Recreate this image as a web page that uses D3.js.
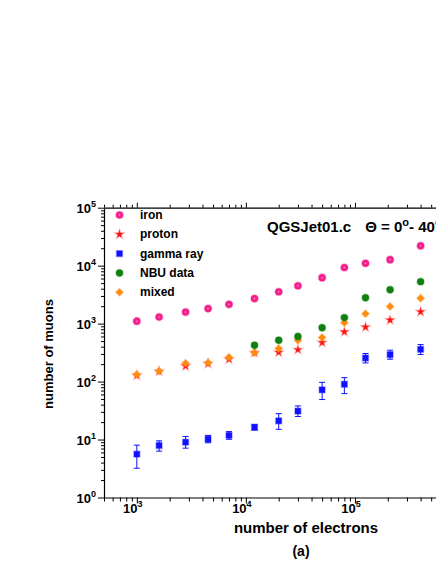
<!DOCTYPE html>
<html>
<head>
<meta charset="utf-8">
<script src="https://cdn.jsdelivr.net/npm/d3@7"></script>
<style>
  body { margin: 0; background: #fff; }
  text { font-family: Arial, "Liberation Sans", sans-serif; font-weight: bold; }
</style>
</head>
<body>
<div id="chart"></div>
<script>
// values
var electrons = [1000, 1600, 2800, 4500, 7000, 12000, 20000, 30000, 50000, 80000, 125000, 210000, 400000];
var iron = [1100, 1300, 1580, 1820, 2150, 2700, 3550, 4500, 6200, 9300, 11000, 12700, 22000];
var proton = [128, 150, 185, 205, 242, 315, 320, 355, 470, 720, 870, 1150, 1600];
var gamma = [5.6, 7.9, 9.0, 10.2, 11.8, 16.3, 21, 31, 72, 90, 255, 292, 360];
var gammaLow = [3.2, 6.3, 7.1, 8.8, 10.1, 14.6, 15, 25, 49, 62, 210, 243, 294];
var gammaHigh = [8, 9.5, 11.3, 11.8, 13.7, 18, 28, 38, 97, 117, 305, 348, 435];
var nbuElectrons = [12000, 20000, 30000, 50000, 80000, 125000, 210000, 400000];
var nbu = [425, 515, 600, 850, 1270, 2800, 3850, 5300];
var mixed = [132, 152, 208, 212, 262, 316, 372, 515, 575, 1040, 1480, 1980, 2750];

var xMajor = [1e3, 1e4, 1e5];
var yMajor = [1e0, 1e1, 1e2, 1e3, 1e4, 1e5];
var legendLabels = ['iron', 'proton', 'gamma ray', 'NBU data', 'mixed'];

var width = 436, height = 564;
var svg = d3.select('#chart').append('svg')
  .attr('width', width)
  .attr('height', height);

var x = d3.scaleLog().domain([500, 1e6]).range([104, 464]);
var y = d3.scaleLog().domain([1, 1e5]).range([497.5, 207.7]);

function minorTicks(lo, hi) {
  var t = [];
  for (var e = lo; e < hi; e++) {
    for (var k = 1; k < 10; k++) t.push(k * Math.pow(10, e));
  }
  t.push(Math.pow(10, hi));
  return t;
}
var xTicks = minorTicks(2, 6).filter(function (v) { return v >= 500; });
var yTicks = minorTicks(0, 5);

function isMajor(v) {
  var l = Math.log10(v);
  return Math.abs(l - Math.round(l)) < 1e-9;
}

// bottom axis
var gx = svg.append('g').attr('transform', 'translate(0,497.5)')
  .call(d3.axisBottom(x).tickValues(xTicks).tickFormat('').tickSizeOuter(0));
gx.selectAll('.tick line').attr('y2', function (d) { return isMajor(d) ? 6 : 4; });

// top axis
var gt = svg.append('g').attr('transform', 'translate(0,207.7)')
  .call(d3.axisTop(x).tickValues(xTicks).tickFormat('').tickSizeOuter(0));
gt.selectAll('.tick line').attr('y2', function (d) { return isMajor(d) ? -5 : -3; });

// left axis
var gy = svg.append('g').attr('transform', 'translate(104,0)')
  .call(d3.axisLeft(y).tickValues(yTicks).tickFormat('').tickSizeOuter(0));
gy.selectAll('.tick line').attr('x2', function (d) { return isMajor(d) ? -6 : -3; });

svg.selectAll('.domain').attr('stroke', '#000').attr('stroke-width', 1.2);
svg.selectAll('.tick line').attr('stroke', '#000');

// tick labels
function powerLabel(sel, v) {
  sel.append('tspan').text('10');
  sel.append('tspan').attr('dy', -6).style('font-size', '9px')
    .text(Math.round(Math.log10(v)));
}
xMajor.forEach(function (v) {
  var t = svg.append('text')
    .attr('x', x(v) - 4)
    .attr('y', 513)
    .attr('text-anchor', 'middle')
    .style('font-size', '13px');
  powerLabel(t, v);
});
yMajor.forEach(function (v) {
  var t = svg.append('text')
    .attr('x', 96)
    .attr('y', y(v) + 5)
    .attr('text-anchor', 'end')
    .style('font-size', '13px');
  powerLabel(t, v);
});

// axis titles
svg.append('text')
  .attr('x', 306).attr('y', 533)
  .attr('text-anchor', 'middle')
  .style('font-size', '15px')
  .text('number of electrons');
svg.append('text')
  .attr('x', 301).attr('y', 556)
  .attr('text-anchor', 'middle')
  .style('font-size', '14px')
  .text('(a)');
svg.append('text')
  .attr('transform', 'translate(53,354) rotate(-90)')
  .attr('text-anchor', 'middle')
  .style('font-size', '13px')
  .text('number of muons');

// title
var title = svg.append('text')
  .attr('x', 267).attr('y', 232)
  .style('font-size', '15px');
title.append('tspan').text('QGSJet01.c');
title.append('tspan').attr('dx', 14).text('\u0398 = 0');
title.append('tspan').attr('dy', -6).style('font-size', '11px').text('o');
title.append('tspan').attr('dy', 6).text('- 40');
title.append('tspan').attr('dy', -6).style('font-size', '11px').text('o');

// markers
var colors = { iron: '#f5208c', proton: '#ff1010', gamma: '#1010ff', nbu: '#108010', mixed: '#ff8c10' };

function drawIron(g, cx, cy) {
  g.append('circle').attr('cx', cx).attr('cy', cy).attr('r', 3.6)
    .attr('fill', colors.iron).attr('stroke', colors.iron).attr('stroke-opacity', 0.35).attr('stroke-width', 1.5);
  g.append('circle').attr('cx', cx).attr('cy', cy).attr('r', 0.8).attr('fill', '#ff9fd0');
}
function drawSymbol(g, cx, cy, type, size, color) {
  g.append('path')
    .attr('d', d3.symbol().type(type).size(size)())
    .attr('transform', 'translate(' + cx + ',' + cy + ')')
    .attr('fill', color)
    .attr('stroke', color).attr('stroke-opacity', 0.35).attr('stroke-width', 1.5);
}
function drawProton(g, cx, cy) { drawSymbol(g, cx, cy, d3.symbolStar, 20, colors.proton); }
function drawGamma(g, cx, cy) { drawSymbol(g, cx, cy, d3.symbolSquare, 34, colors.gamma); }
function drawNbu(g, cx, cy) { drawSymbol(g, cx, cy, d3.symbolCircle, 38, colors.nbu); }
function drawMixed(g, cx, cy) { drawSymbol(g, cx, cy, d3.symbolDiamond2, 36, colors.mixed); }

var marks = svg.append('g');

// gamma error bars
var eb = marks.append('g').attr('stroke', colors.gamma).attr('stroke-width', 1);
electrons.forEach(function (e, i) {
  var cx = x(e);
  eb.append('line').attr('x1', cx).attr('x2', cx).attr('y1', y(gammaLow[i])).attr('y2', y(gammaHigh[i]));
  eb.append('line').attr('x1', cx - 3).attr('x2', cx + 3).attr('y1', y(gammaLow[i])).attr('y2', y(gammaLow[i]));
  eb.append('line').attr('x1', cx - 3).attr('x2', cx + 3).attr('y1', y(gammaHigh[i])).attr('y2', y(gammaHigh[i]));
});

electrons.forEach(function (e, i) { drawGamma(marks, x(e), y(gamma[i])); });
electrons.forEach(function (e, i) { drawProton(marks, x(e), y(proton[i])); });
electrons.forEach(function (e, i) { drawMixed(marks, x(e), y(mixed[i])); });
nbuElectrons.forEach(function (e, i) { drawNbu(marks, x(e), y(nbu[i])); });
electrons.forEach(function (e, i) { drawIron(marks, x(e), y(iron[i])); });

// legend
var legend = svg.append('g');
var drawers = [drawIron, drawProton, drawGamma, drawNbu, drawMixed];
legendLabels.forEach(function (label, i) {
  var ly = 215 + i * 19.3;
  drawers[i](legend, 119.5, ly);
  legend.append('text')
    .attr('x', 140).attr('y', ly + 4)
    .style('font-size', '12px')
    .text(label);
});
</script>
</body>
</html>
